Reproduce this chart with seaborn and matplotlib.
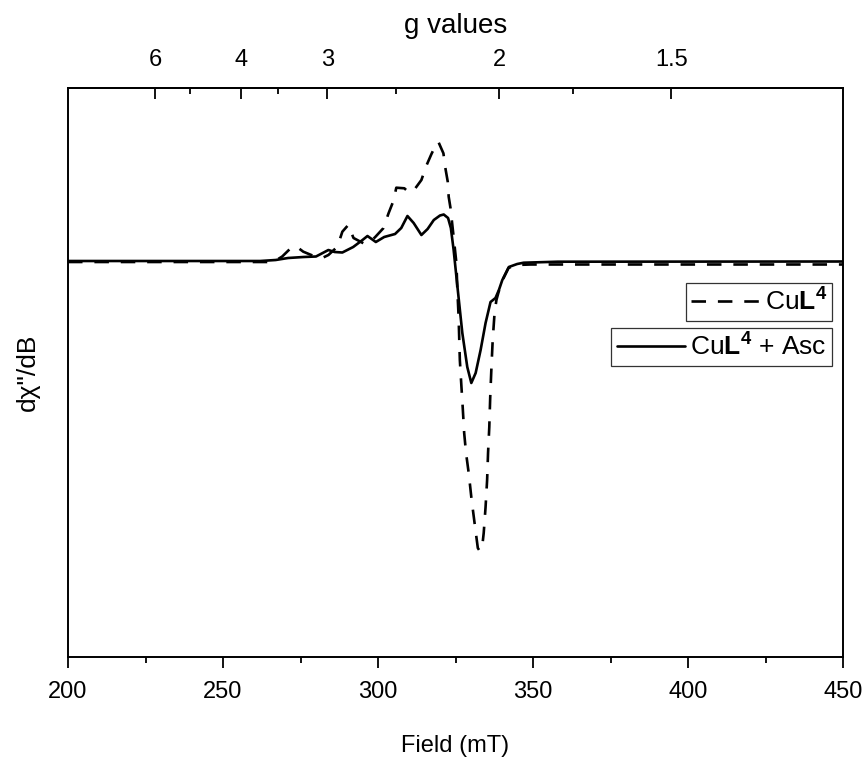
import numpy as np
import pandas as pd
import matplotlib
matplotlib.use("Agg")
import matplotlib.pyplot as plt
import seaborn as sns

# ---- data ----
field_cul4 = [200, 262, 265.9, 267.8, 269.1, 272.4, 274.3, 275.9, 279.8, 282.0, 284.0, 286.9,
              288.5, 290.4, 292.1, 295.3, 297.5, 299.2, 301.7, 303.4, 305.0, 305.9, 308.5,
              309.8, 311.4, 314.0, 315.6, 317.2, 318.9, 319.5, 321.1, 321.8, 322.5, 322.8,
              323.4, 324.5, 325.3, 325.6, 326.0, 326.4, 326.9, 327.3, 327.8, 328.4, 329.3,
              330.2, 331.4, 332.2, 332.8, 333.6, 334.1, 334.7, 335.2, 335.5, 335.9, 336.2,
              336.6, 337.0, 337.6, 338.2, 338.9, 340.2, 342.1, 344.4, 349.2, 450]
signal_cul4 = [-1, -1, -1, 2, 4.5, 14.5, 13, 9.3, 4.3, 3, 6, 14.3,
               29.3, 36, 23, 17.7, 19, 24.3, 32.7, 47.7, 60.3, 73.3, 72.7,
               69, 70, 81, 95.3, 106.7, 117.7, 119, 107.7, 91.7, 79.3, 64.3,
               52.7, 21, -2.3, -29, -55.7, -99, -125, -145, -172, -192, -213,
               -239, -268, -287, -290, -286, -272, -246, -219, -192, -166, -136,
               -106, -79, -52, -39, -31, -19, -7, -4, -3.5, -3.5]

field_asc = [200, 262, 267, 271, 276, 280, 284, 286, 288.5, 292, 295, 296.6, 299.3, 302,
             305.5, 307.5, 309.5, 311.5, 314, 316, 318, 320, 321.2, 322.6, 323.5, 324.4,
             325.5, 327.2, 328.8, 330.1, 331.5, 333.1, 334.7, 336.3, 337.9, 339.0, 340.1,
             342.2, 344.9, 347, 358, 450]
signal_asc = [0, 0, 1, 3, 4, 4.5, 11, 9, 8.5, 14, 21, 25, 19, 24,
              27, 33, 45, 38, 26, 32, 41, 45.5, 46.5, 43, 33, 11,
              -22, -72, -106, -122, -112, -89, -62, -41, -37, -29, -19,
              -6, -3, -1.7, -0.7, -0.5]

x_ticks = [200, 250, 300, 350, 400, 450]
g_ticks = [6, 4, 3, 2, 1.5]
g_minor = [5, 3.5, 2.5, 1.75]
g_labels = ["6", "4", "3", "2", "1.5"]

label_cul4 = r"Cu$\mathbf{L^4}$"
label_asc = r"Cu$\mathbf{L^4}$ + Asc"

# ---- style ----
sns.set_style("white")
plt.rcParams["font.family"] = ["Liberation Sans", "DejaVu Sans"]
plt.rcParams["mathtext.fontset"] = "custom"
plt.rcParams["mathtext.rm"] = "Liberation Sans"
plt.rcParams["mathtext.bf"] = "Liberation Sans:bold"
plt.rcParams["mathtext.it"] = "Liberation Sans:italic"
for key in ["text.color", "axes.labelcolor", "xtick.color", "ytick.color",
            "xtick.labelcolor", "ytick.labelcolor"]:
    plt.rcParams[key] = "black"

fig = plt.figure(figsize=(8.65, 7.6), dpi=100)
ax = fig.add_axes([68 / 865, 1 - 657 / 760, (843 - 68) / 865, (657 - 88) / 760])

df1 = pd.DataFrame({"Field": field_cul4, "signal": signal_cul4})
df2 = pd.DataFrame({"Field": field_asc, "signal": signal_asc})

sns.lineplot(data=df1, x="Field", y="signal", ax=ax, color="black", lw=1.9,
             sort=False, legend=False)
sns.lineplot(data=df2, x="Field", y="signal", ax=ax, color="black", lw=1.9,
             sort=False, legend=False)
l_dash, l_solid = ax.lines[0], ax.lines[1]
l_dash.set_linestyle((0, (5.5, 4.5)))

ax.set_xlim(200, 450)
ax.set_ylim(-396, 173)
ax.set_yticks([])
ax.set_xticks(x_ticks)
ax.set_xticks([225, 275, 325, 375, 425], minor=True)
ax.tick_params(axis="x", which="major", direction="out", length=8, width=1.3,
               labelsize=17, pad=9, bottom=True, top=False, colors="black")
ax.tick_params(axis="x", which="minor", direction="out", length=4, width=1.3,
               bottom=True, top=False, colors="black")
for s in ax.spines.values():
    s.set_linewidth(1.4)
    s.set_color("black")

ax.set_xlabel("Field (mT)", fontsize=17, labelpad=23, color="black")
ax.set_ylabel("d\u03c7\"/dB", fontsize=19, labelpad=20, color="black")


def fwd(b):
    b = np.asarray(b, dtype=float)
    with np.errstate(divide="ignore", invalid="ignore"):
        return 333.0 / (b - 172.6)


def inv(g):
    g = np.asarray(g, dtype=float)
    with np.errstate(divide="ignore", invalid="ignore"):
        return 333.0 / g + 172.6


sec = ax.secondary_xaxis("top", functions=(fwd, inv))
sec.set_xticks(g_ticks, labels=g_labels)
sec.set_xticks(g_minor, minor=True)
sec.tick_params(axis="x", which="major", direction="in", length=8, width=1.3,
                labelsize=17, pad=12, colors="black")
sec.tick_params(axis="x", which="minor", direction="in", length=4, width=1.3,
                colors="black")
sec.spines["top"].set_linewidth(1.4)
sec.set_xlabel("g values", fontsize=20, labelpad=12, color="black")

leg_kw = dict(loc="upper right", frameon=True, fancybox=False, fontsize=19,
              handlelength=2.6, handletextpad=0.2, borderpad=0.2,
              borderaxespad=0, edgecolor="black")
leg1 = ax.legend([l_dash], [label_cul4], bbox_to_anchor=(0.986, 0.657), **leg_kw)
leg1.get_frame().set_linewidth(0.9)
ax.add_artist(leg1)
leg2 = ax.legend([l_solid], [label_asc], bbox_to_anchor=(0.986, 0.578), **leg_kw)
leg2.get_frame().set_linewidth(0.9)

fig.savefig("out.png", dpi=100, facecolor="white")
